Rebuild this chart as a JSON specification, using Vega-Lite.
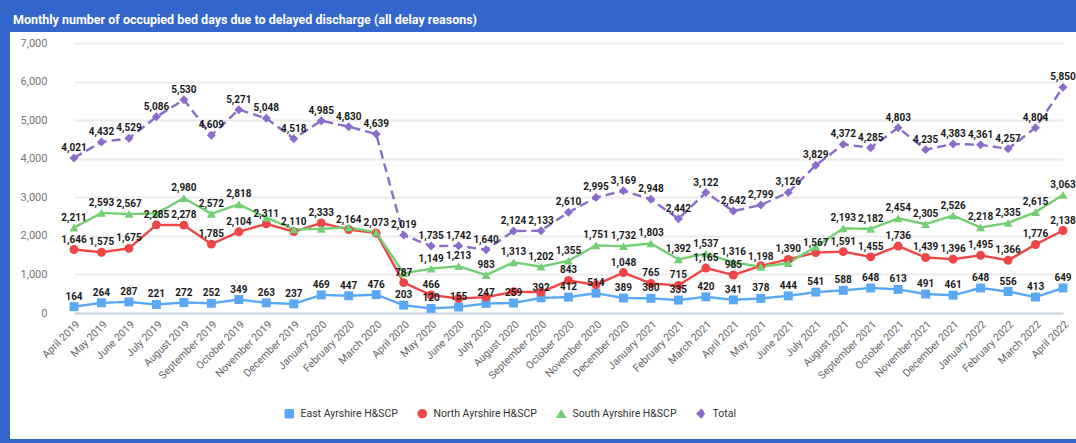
{
  "$schema": "https://vega.github.io/schema/vega-lite/v6.json",
  "width": 1066,
  "height": 407,
  "autosize": {"type": "none"},
  "padding": {"left": 10, "top": 32, "right": 0, "bottom": 4},
  "background": "#3366cc",
  "title": {"text": "Monthly number of occupied bed days due to delayed discharge (all delay reasons)", "anchor": "start", "frame": "group", "color": "#ffffff", "font": "Roboto", "fontSize": 12.5, "fontWeight": "bold", "offset": 6, "dx": 3},
  "config": {
    "view": {"fill": "#ffffff", "stroke": null},
    "font": "Roboto"
  },
  "datasets": {
    "rows": [
      {"m":"April 2019","s":"East Ayrshire H&SCP","v":164},
      {"m":"May 2019","s":"East Ayrshire H&SCP","v":264},
      {"m":"June 2019","s":"East Ayrshire H&SCP","v":287},
      {"m":"July 2019","s":"East Ayrshire H&SCP","v":221},
      {"m":"August 2019","s":"East Ayrshire H&SCP","v":272},
      {"m":"September 2019","s":"East Ayrshire H&SCP","v":252},
      {"m":"October 2019","s":"East Ayrshire H&SCP","v":349},
      {"m":"November 2019","s":"East Ayrshire H&SCP","v":263},
      {"m":"December 2019","s":"East Ayrshire H&SCP","v":237},
      {"m":"January 2020","s":"East Ayrshire H&SCP","v":469},
      {"m":"February 2020","s":"East Ayrshire H&SCP","v":447},
      {"m":"March 2020","s":"East Ayrshire H&SCP","v":476},
      {"m":"April 2020","s":"East Ayrshire H&SCP","v":203},
      {"m":"May 2020","s":"East Ayrshire H&SCP","v":120},
      {"m":"June 2020","s":"East Ayrshire H&SCP","v":155},
      {"m":"July 2020","s":"East Ayrshire H&SCP","v":247},
      {"m":"August 2020","s":"East Ayrshire H&SCP","v":259},
      {"m":"September 2020","s":"East Ayrshire H&SCP","v":392},
      {"m":"October 2020","s":"East Ayrshire H&SCP","v":412},
      {"m":"November 2020","s":"East Ayrshire H&SCP","v":514},
      {"m":"December 2020","s":"East Ayrshire H&SCP","v":389},
      {"m":"January 2021","s":"East Ayrshire H&SCP","v":380},
      {"m":"February 2021","s":"East Ayrshire H&SCP","v":335},
      {"m":"March 2021","s":"East Ayrshire H&SCP","v":420},
      {"m":"April 2021","s":"East Ayrshire H&SCP","v":341},
      {"m":"May 2021","s":"East Ayrshire H&SCP","v":378},
      {"m":"June 2021","s":"East Ayrshire H&SCP","v":444},
      {"m":"July 2021","s":"East Ayrshire H&SCP","v":541},
      {"m":"August 2021","s":"East Ayrshire H&SCP","v":588},
      {"m":"September 2021","s":"East Ayrshire H&SCP","v":648},
      {"m":"October 2021","s":"East Ayrshire H&SCP","v":613},
      {"m":"November 2021","s":"East Ayrshire H&SCP","v":491},
      {"m":"December 2021","s":"East Ayrshire H&SCP","v":461},
      {"m":"January 2022","s":"East Ayrshire H&SCP","v":648},
      {"m":"February 2022","s":"East Ayrshire H&SCP","v":556},
      {"m":"March 2022","s":"East Ayrshire H&SCP","v":413},
      {"m":"April 2022","s":"East Ayrshire H&SCP","v":649},

      {"m":"April 2019","s":"North Ayrshire H&SCP","v":1646},
      {"m":"May 2019","s":"North Ayrshire H&SCP","v":1575},
      {"m":"June 2019","s":"North Ayrshire H&SCP","v":1675},
      {"m":"July 2019","s":"North Ayrshire H&SCP","v":2285},
      {"m":"August 2019","s":"North Ayrshire H&SCP","v":2278},
      {"m":"September 2019","s":"North Ayrshire H&SCP","v":1785},
      {"m":"October 2019","s":"North Ayrshire H&SCP","v":2104},
      {"m":"November 2019","s":"North Ayrshire H&SCP","v":2311},
      {"m":"December 2019","s":"North Ayrshire H&SCP","v":2110},
      {"m":"January 2020","s":"North Ayrshire H&SCP","v":2333},
      {"m":"February 2020","s":"North Ayrshire H&SCP","v":2164},
      {"m":"March 2020","s":"North Ayrshire H&SCP","v":2073},
      {"m":"April 2020","s":"North Ayrshire H&SCP","v":787},
      {"m":"May 2020","s":"North Ayrshire H&SCP","v":466},
      {"m":"June 2020","s":"North Ayrshire H&SCP","v":374,"hide":true},
      {"m":"July 2020","s":"North Ayrshire H&SCP","v":410,"hide":true},
      {"m":"August 2020","s":"North Ayrshire H&SCP","v":552,"hide":true},
      {"m":"September 2020","s":"North Ayrshire H&SCP","v":539,"hide":true},
      {"m":"October 2020","s":"North Ayrshire H&SCP","v":843},
      {"m":"November 2020","s":"North Ayrshire H&SCP","v":730,"hide":true},
      {"m":"December 2020","s":"North Ayrshire H&SCP","v":1048},
      {"m":"January 2021","s":"North Ayrshire H&SCP","v":765},
      {"m":"February 2021","s":"North Ayrshire H&SCP","v":715},
      {"m":"March 2021","s":"North Ayrshire H&SCP","v":1165},
      {"m":"April 2021","s":"North Ayrshire H&SCP","v":985},
      {"m":"May 2021","s":"North Ayrshire H&SCP","v":1223,"hide":true},
      {"m":"June 2021","s":"North Ayrshire H&SCP","v":1390},
      {"m":"July 2021","s":"North Ayrshire H&SCP","v":1567},
      {"m":"August 2021","s":"North Ayrshire H&SCP","v":1591},
      {"m":"September 2021","s":"North Ayrshire H&SCP","v":1455},
      {"m":"October 2021","s":"North Ayrshire H&SCP","v":1736},
      {"m":"November 2021","s":"North Ayrshire H&SCP","v":1439},
      {"m":"December 2021","s":"North Ayrshire H&SCP","v":1396},
      {"m":"January 2022","s":"North Ayrshire H&SCP","v":1495},
      {"m":"February 2022","s":"North Ayrshire H&SCP","v":1366},
      {"m":"March 2022","s":"North Ayrshire H&SCP","v":1776},
      {"m":"April 2022","s":"North Ayrshire H&SCP","v":2138},

      {"m":"April 2019","s":"South Ayrshire H&SCP","v":2211},
      {"m":"May 2019","s":"South Ayrshire H&SCP","v":2593},
      {"m":"June 2019","s":"South Ayrshire H&SCP","v":2567},
      {"m":"July 2019","s":"South Ayrshire H&SCP","v":2580,"hide":true},
      {"m":"August 2019","s":"South Ayrshire H&SCP","v":2980},
      {"m":"September 2019","s":"South Ayrshire H&SCP","v":2572},
      {"m":"October 2019","s":"South Ayrshire H&SCP","v":2818},
      {"m":"November 2019","s":"South Ayrshire H&SCP","v":2474,"hide":true},
      {"m":"December 2019","s":"South Ayrshire H&SCP","v":2171,"hide":true},
      {"m":"January 2020","s":"South Ayrshire H&SCP","v":2183,"hide":true},
      {"m":"February 2020","s":"South Ayrshire H&SCP","v":2219,"hide":true},
      {"m":"March 2020","s":"South Ayrshire H&SCP","v":2090,"hide":true},
      {"m":"April 2020","s":"South Ayrshire H&SCP","v":1029,"hide":true},
      {"m":"May 2020","s":"South Ayrshire H&SCP","v":1149},
      {"m":"June 2020","s":"South Ayrshire H&SCP","v":1213},
      {"m":"July 2020","s":"South Ayrshire H&SCP","v":983},
      {"m":"August 2020","s":"South Ayrshire H&SCP","v":1313},
      {"m":"September 2020","s":"South Ayrshire H&SCP","v":1202},
      {"m":"October 2020","s":"South Ayrshire H&SCP","v":1355},
      {"m":"November 2020","s":"South Ayrshire H&SCP","v":1751},
      {"m":"December 2020","s":"South Ayrshire H&SCP","v":1732},
      {"m":"January 2021","s":"South Ayrshire H&SCP","v":1803},
      {"m":"February 2021","s":"South Ayrshire H&SCP","v":1392},
      {"m":"March 2021","s":"South Ayrshire H&SCP","v":1537},
      {"m":"April 2021","s":"South Ayrshire H&SCP","v":1316},
      {"m":"May 2021","s":"South Ayrshire H&SCP","v":1198},
      {"m":"June 2021","s":"South Ayrshire H&SCP","v":1292,"hide":true},
      {"m":"July 2021","s":"South Ayrshire H&SCP","v":1721,"hide":true},
      {"m":"August 2021","s":"South Ayrshire H&SCP","v":2193},
      {"m":"September 2021","s":"South Ayrshire H&SCP","v":2182},
      {"m":"October 2021","s":"South Ayrshire H&SCP","v":2454},
      {"m":"November 2021","s":"South Ayrshire H&SCP","v":2305},
      {"m":"December 2021","s":"South Ayrshire H&SCP","v":2526},
      {"m":"January 2022","s":"South Ayrshire H&SCP","v":2218},
      {"m":"February 2022","s":"South Ayrshire H&SCP","v":2335},
      {"m":"March 2022","s":"South Ayrshire H&SCP","v":2615},
      {"m":"April 2022","s":"South Ayrshire H&SCP","v":3063},

      {"m":"April 2019","s":"Total","v":4021},
      {"m":"May 2019","s":"Total","v":4432},
      {"m":"June 2019","s":"Total","v":4529},
      {"m":"July 2019","s":"Total","v":5086},
      {"m":"August 2019","s":"Total","v":5530},
      {"m":"September 2019","s":"Total","v":4609},
      {"m":"October 2019","s":"Total","v":5271},
      {"m":"November 2019","s":"Total","v":5048},
      {"m":"December 2019","s":"Total","v":4518},
      {"m":"January 2020","s":"Total","v":4985},
      {"m":"February 2020","s":"Total","v":4830},
      {"m":"March 2020","s":"Total","v":4639},
      {"m":"April 2020","s":"Total","v":2019},
      {"m":"May 2020","s":"Total","v":1735},
      {"m":"June 2020","s":"Total","v":1742},
      {"m":"July 2020","s":"Total","v":1640},
      {"m":"August 2020","s":"Total","v":2124},
      {"m":"September 2020","s":"Total","v":2133},
      {"m":"October 2020","s":"Total","v":2610},
      {"m":"November 2020","s":"Total","v":2995},
      {"m":"December 2020","s":"Total","v":3169},
      {"m":"January 2021","s":"Total","v":2948},
      {"m":"February 2021","s":"Total","v":2442},
      {"m":"March 2021","s":"Total","v":3122},
      {"m":"April 2021","s":"Total","v":2642},
      {"m":"May 2021","s":"Total","v":2799},
      {"m":"June 2021","s":"Total","v":3126},
      {"m":"July 2021","s":"Total","v":3829},
      {"m":"August 2021","s":"Total","v":4372},
      {"m":"September 2021","s":"Total","v":4285},
      {"m":"October 2021","s":"Total","v":4803},
      {"m":"November 2021","s":"Total","v":4235},
      {"m":"December 2021","s":"Total","v":4383},
      {"m":"January 2022","s":"Total","v":4361},
      {"m":"February 2022","s":"Total","v":4257},
      {"m":"March 2022","s":"Total","v":4804},
      {"m":"April 2022","s":"Total","v":5850}
    ]
  },
  "data": {"name": "rows"},
  "encoding": {
    "x": {
      "field": "m", "type": "ordinal", "sort": null,
      "scale": {"type": "point", "range": [64, 1053], "padding": 0},
      "axis": {"title": null, "offset": -126, "labelAngle": -45, "labelFontSize": 10.5, "labelColor": "#666666", "labelPadding": 6, "ticks": false, "tickSize": 0, "grid": false, "domainColor": "#ccd5e6", "domainWidth": 2, "labelFont": "Roboto"}
    },
    "y": {
      "field": "v", "type": "quantitative",
      "scale": {"domain": [0, 7000], "range": [281, 11], "nice": false},
      "axis": {"title": null, "offset": -45, "values": [0,1000,2000,3000,4000,5000,6000,7000], "format": ",.0f", "labelFontSize": 11, "labelColor": "#757575", "labelPadding": 8, "ticks": false, "tickSize": 0, "domain": false, "grid": true, "gridColor": "#ececec", "gridWidth": 2, "labelFont": "Roboto"}
    },
    "color": {
      "field": "s", "type": "nominal",
      "scale": {"domain": ["East Ayrshire H&SCP", "North Ayrshire H&SCP", "South Ayrshire H&SCP", "Total"], "range": ["#5aa8f5", "#ee4646", "#72d072", "#8a6cc9"]},
      "legend": {"title": null, "orient": "none", "legendX": 274, "legendY": 376, "direction": "horizontal", "labelFontSize": 10.5, "labelFontWeight": "normal", "labelColor": "#333333", "labelFont": "Roboto", "symbolSize": 64, "labelOffset": 6, "columnPadding": 17}
    }
  },
  "layer": [
    {
      "mark": {"type": "line", "strokeWidth": 2.4},
      "encoding": {
        "strokeDash": {"field": "s", "type": "nominal", "scale": {"domain": ["East Ayrshire H&SCP", "North Ayrshire H&SCP", "South Ayrshire H&SCP", "Total"], "range": [[1, 0], [1, 0], [1, 0], [9, 5]]}, "legend": null}
      }
    },
    {
      "mark": {"type": "point", "filled": true, "opacity": 1, "size": 80},
      "encoding": {
        "shape": {"field": "s", "type": "nominal", "scale": {"domain": ["East Ayrshire H&SCP", "North Ayrshire H&SCP", "South Ayrshire H&SCP", "Total"], "range": ["square", "circle", "triangle-up", "diamond"]},
          "legend": {"title": null, "orient": "none", "legendX": 274, "legendY": 376, "direction": "horizontal", "labelFontSize": 10.5, "labelFontWeight": "normal", "labelColor": "#333333", "labelFont": "Roboto", "symbolSize": 64, "labelOffset": 6, "columnPadding": 17}}
      }
    },
    {
      "transform": [{"filter": "!datum.hide"}],
      "mark": {"type": "text", "fontWeight": "bold", "fontSize": 10, "font": "Roboto", "baseline": "bottom", "dy": -5},
      "encoding": {
        "text": {"field": "v", "type": "quantitative", "format": ","},
        "color": {"value": "#1a1a1a"}
      }
    }
  ]
}
